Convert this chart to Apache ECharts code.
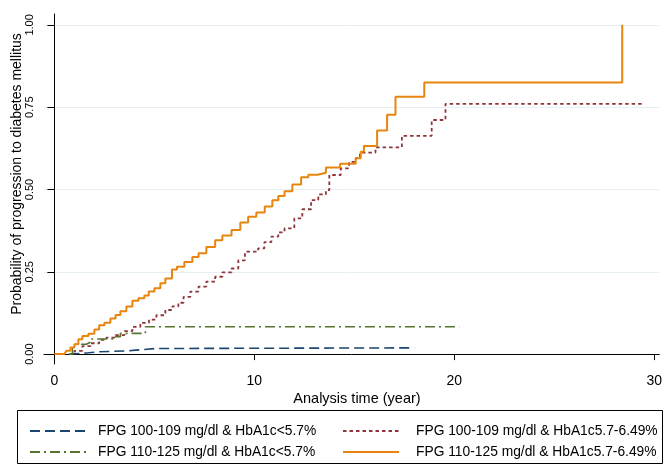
<!DOCTYPE html>
<html>
<head>
<meta charset="utf-8">
<script src="https://cdn.jsdelivr.net/npm/echarts@6/dist/echarts.min.js"></script>
<style>html,body{margin:0;padding:0;background:#fff}#c{width:665px;height:465px}</style>
</head>
<body>
<div id="c"></div>
<script>
const xTicks = [0, 10, 20, 30];
const yTicks = [0, 0.25, 0.5, 0.75, 1];
const xTitle = 'Analysis time (year)';
const yTitle = 'Probability of progression to diabetes mellitus';
const names = [
  'FPG 100-109 mg/dl & HbA1c<5.7%',
  'FPG 100-109 mg/dl & HbA1c5.7-6.49%',
  'FPG 110-125 mg/dl & HbA1c<5.7%',
  'FPG 110-125 mg/dl & HbA1c5.7-6.49%'
];
const fpg100Low = [[0.75,0],[0.8,0.004],[1.7,0.007],[2.2,0.01],[3.7,0.012],[4.06,0.017],[5.06,0.019],[18.0,0.019]];
const fpg100Mid = [[0.75,0],[1.0,0.01],[1.4,0.024],[1.8,0.033],[2.24,0.043],[2.6,0.05],[3.06,0.058],[3.5,0.07],[3.9,0.083],[4.3,0.095],[4.73,0.105],[5.1,0.118],[5.55,0.134],[5.9,0.145],[6.2,0.156],[6.46,0.174],[6.8,0.19],[7.21,0.205],[7.6,0.22],[8.04,0.235],[8.4,0.248],[8.86,0.26],[9.2,0.285],[9.53,0.311],[10.19,0.321],[10.5,0.34],[10.85,0.357],[11.2,0.37],[11.51,0.382],[12.0,0.412],[12.4,0.44],[12.84,0.468],[13.2,0.485],[13.58,0.498],[13.75,0.544],[14.32,0.564],[14.74,0.584],[15.07,0.595],[15.28,0.612],[16.06,0.628],[17.38,0.663],[18.87,0.711],[19.56,0.76],[29.4,0.76]];
const fpg110Low = [[0.75,0],[0.9,0.02],[1.0,0.03],[1.6,0.036],[1.8,0.046],[3.0,0.053],[3.3,0.063],[4.55,0.083],[20.25,0.083]];
const fpg110Mid = [[0,0],[0.5,0],[0.6,0.01],[0.8,0.02],[1.0,0.03],[1.2,0.045],[1.4,0.055],[1.7,0.062],[2.0,0.075],[2.24,0.088],[2.5,0.095],[2.8,0.108],[3.06,0.119],[3.3,0.13],[3.6,0.145],[3.9,0.162],[4.2,0.17],[4.5,0.178],[4.72,0.19],[5.0,0.2],[5.3,0.215],[5.55,0.23],[5.88,0.257],[6.13,0.265],[6.5,0.28],[6.9,0.295],[7.21,0.306],[7.6,0.325],[8.04,0.346],[8.4,0.36],[8.86,0.377],[9.3,0.4],[9.69,0.417],[10.1,0.43],[10.52,0.448],[10.9,0.467],[11.2,0.48],[11.51,0.495],[11.9,0.515],[12.34,0.537],[12.7,0.545],[13.17,0.551],[13.58,0.567],[14.29,0.578],[15.07,0.595],[15.32,0.615],[15.48,0.632],[16.14,0.679],[16.64,0.727],[17.06,0.782],[18.5,0.825],[28.4,1.0]];

const FONT = '"Liberation Sans", Arial, sans-serif';
const colors = ['#1a476f', '#90353b', '#55752f', '#e8850f'];
const dashes = [[10, 5], [3.5, 3], [10, 4, 2, 4], 'solid'];
const widths = [1.6, 1.8, 1.6, 2];
const datas = [fpg100Low, fpg100Mid, fpg110Low, fpg110Mid];

const series = names.map((n, i) => ({
  name: n, type: 'line', step: 'end', data: datas[i],
  showSymbol: false, symbol: 'none', silent: true, animation: false,
  color: colors[i],
  lineStyle: { color: colors[i], width: widths[i], type: dashes[i] }
}));

const legendPos = [
  { left: 29, top: 424, pad: 7 },
  { left: 342, top: 424, pad: 12 },
  { left: 29, top: 445, pad: 7 },
  { left: 342, top: 445, pad: 12 }
];
const legends = names.map((n, i) => ({
  data: [n], left: legendPos[i].left, top: legendPos[i].top,
  itemWidth: 56, itemHeight: 14, padding: 0, selectedMode: false,
  itemStyle: { opacity: 0 },
  textStyle: { fontFamily: FONT, fontSize: 13.8, color: '#000', padding: [0, 0, 0, legendPos[i].pad] }
}));

const chart = echarts.init(document.getElementById('c'), null, { renderer: 'canvas' });
chart.setOption({
  backgroundColor: '#fff',
  animation: false,
  grid: { left: 44, right: 1, top: 14, bottom: 101 },
  legend: legends,
  xAxis: {
    type: 'value', min: -0.52, max: 30.25,
    axisLine: { show: true, lineStyle: { color: '#000', width: 1 } },
    axisTick: { show: true, length: 6, customValues: xTicks, lineStyle: { color: '#000' } },
    axisLabel: { customValues: xTicks, margin: 10, fontFamily: FONT, fontSize: 14, color: '#000' },
    splitLine: { show: false }
  },
  yAxis: {
    type: 'value', min: -0.03, max: 1.033,
    axisLine: { show: true, lineStyle: { color: '#000', width: 1 } },
    axisTick: { show: true, length: 7, customValues: yTicks, lineStyle: { color: '#000' } },
    axisLabel: { customValues: yTicks, rotate: 90, margin: 9, fontFamily: FONT, fontSize: 11, color: '#000',
      formatter: v => v.toFixed(2) },
    splitLine: { show: true, lineStyle: { color: '#e6eff1', width: 1 } }
  },
  graphic: [
    { type: 'text', x: 17, y: 174, rotation: Math.PI / 2,
      style: { text: yTitle, fontFamily: FONT, fontSize: 14, fill: '#000', align: 'center', verticalAlign: 'middle' } },
    { type: 'text', x: 357, y: 399,
      style: { text: xTitle, fontFamily: FONT, fontSize: 14.5, fill: '#000', align: 'center', verticalAlign: 'middle' } },
    { type: 'rect', shape: { x: 17.5, y: 410.5, width: 645, height: 53 },
      style: { fill: 'none', stroke: '#000', lineWidth: 1 }, z: -1 }
  ],
  series: series
});
</script>
</body>
</html>
